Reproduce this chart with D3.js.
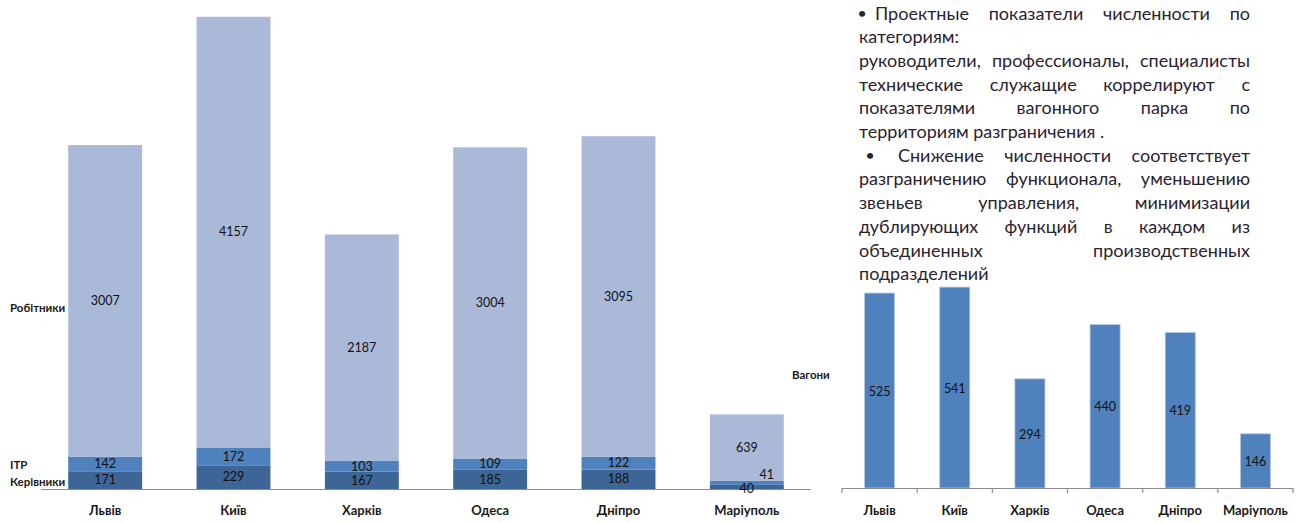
<!DOCTYPE html>
<html><head><meta charset="utf-8">
<script src="https://cdn.jsdelivr.net/npm/d3@7/dist/d3.min.js"></script>
<style>body{margin:0;background:#fff;}svg{display:block;}</style>
</head><body>
<svg id="c" width="1300" height="522"></svg>
<script>
const cities = ["Львів","Київ","Харків","Одеса","Дніпро","Маріуполь"];
const seriesNames = ["Керівники","ІТР","Робітники"];
const managers = [171,229,167,185,188,40];
const itr = [142,172,103,109,122,41];
const workers = [3007,4157,2187,3004,3095,639];
const wagonsName = "Вагони";
const wagons = [525,541,294,440,419,146];
const textLines = [
  {t:"• Проектные показатели численности по", j:true},
  {t:"категориям:", j:false},
  {t:"руководители, профессионалы, специалисты", j:true},
  {t:"технические служащие коррелируют с", j:true},
  {t:"показателями вагонного парка по", j:true},
  {t:"территориям разграничения .", j:false},
  {t:"• Снижение численности соответствует", j:true},
  {t:"разграничению функционала, уменьшению", j:true},
  {t:"звеньев управления, минимизации", j:true},
  {t:"дублирующих функций в каждом из", j:true},
  {t:"объединенных производственных", j:true},
  {t:"подразделений", j:false}
];

const svg = d3.select("#c");
const FONT = "Lato, 'Open Sans', sans-serif";
const colors = ["#3d6696","#4f81bd","#aab9d8"];

// ---------- left stacked chart ----------
const xL = d3.scaleBand().domain(cities).range([41,811]).paddingInner(0.424).paddingOuter(0.212);
const yL = d3.scaleLinear().domain([0,5000]).range([489,-29]);
const rows = cities.map((c,i)=>({city:c, "Керівники":managers[i], "ІТР":itr[i], "Робітники":workers[i]}));
const stack = d3.stack().keys(seriesNames)(rows);

const gLab = svg.append("g").attr("font-family",FONT).attr("font-size",11.5).attr("font-weight","bold").attr("fill","#1a1a1a");
const nameDy = [3,2,8];
stack.forEach((s,k)=>{
  const d=s[0];
  gLab.append("text").attr("x",10).attr("y",(yL(d[0])+yL(d[1]))/2+nameDy[k]).attr("dominant-baseline","middle").text(seriesNames[k]==="ІТР"?"ITP":seriesNames[k]);
});

svg.append("line").attr("x1",41).attr("x2",811).attr("y1",489.5).attr("y2",489.5).attr("stroke","#8c8c8c").attr("stroke-width",1.2);

const gBars = svg.append("g");
stack.forEach((s,k)=>{
  gBars.selectAll(null).data(s).enter().append("rect")
    .attr("x",d=>xL(d.data.city)).attr("width",xL.bandwidth())
    .attr("y",d=>yL(d[1])).attr("height",d=>yL(d[0])-yL(d[1]))
    .attr("fill",colors[k]);
});
const gVals = svg.append("g").attr("font-family",FONT).attr("font-size",12.5).attr("fill","#111").attr("text-anchor","middle");
stack.forEach((s,k)=>{
  s.forEach((d,i)=>{
    let x = xL(d.data.city)+xL.bandwidth()/2, y=(yL(d[0])+yL(d[1]))/2+1;
    const small = (yL(d[0])-yL(d[1]))<8;
    if(small && k===1){ x+=20; y-=8; }
    if(small && k===0){ y+=2; }
    gVals.append("text").attr("x",x).attr("y",y).attr("dominant-baseline","middle").text(d[1]-d[0]);
  });
});
svg.append("g").attr("font-family",FONT).attr("font-size",13).attr("font-weight","bold").attr("fill","#1a1a1a").attr("text-anchor","middle")
  .selectAll("text").data(cities).enter().append("text")
  .attr("x",d=>xL(d)+xL.bandwidth()/2).attr("y",512).attr("dominant-baseline","middle").text(d=>d);

// ---------- right chart ----------
const xR = d3.scaleBand().domain(cities).range([842,1293]).paddingInner(0.6).paddingOuter(0.3);
const yR = d3.scaleLinear().domain([0,600]).range([488,265.2]);
svg.append("g").selectAll("rect").data(wagons).enter().append("rect")
  .attr("x",(d,i)=>xR(cities[i])).attr("width",xR.bandwidth())
  .attr("y",d=>yR(d)).attr("height",d=>yR(0)-yR(d))
  .attr("fill","#4f81bd").attr("stroke","#b8c8e0").attr("stroke-width",0.8);
svg.append("g").attr("font-family",FONT).attr("font-size",12.5).attr("fill","#111").attr("text-anchor","middle")
  .selectAll("text").data(wagons).enter().append("text")
  .attr("x",(d,i)=>xR(cities[i])+xR.bandwidth()/2).attr("y",d=>(yR(0)+yR(d))/2+2)
  .attr("dominant-baseline","middle").text(d=>d);
const axR = svg.append("g").attr("stroke","#8c8c8c").attr("stroke-width",1.2);
axR.append("line").attr("x1",842).attr("x2",1293).attr("y1",488.5).attr("y2",488.5);
const bounds = cities.map(c=>xR(c)-xR.step()*xR.paddingInner()/2).concat([xR.range()[1]]);
bounds[0]=xR.range()[0];
bounds.forEach(b=>axR.append("line").attr("x1",b).attr("x2",b).attr("y1",488).attr("y2",493));
svg.append("g").attr("font-family",FONT).attr("font-size",13).attr("font-weight","bold").attr("fill","#1a1a1a").attr("text-anchor","middle")
  .selectAll("text").data(cities).enter().append("text")
  .attr("x",d=>xR(d)+xR.bandwidth()/2).attr("y",512).attr("dominant-baseline","middle").text(d=>d);
svg.append("text").attr("x",792).attr("y",376).attr("font-family",FONT).attr("font-size",11.5).attr("font-weight","bold").attr("fill","#1a1a1a").attr("dominant-baseline","middle").text(wagonsName);

// ---------- text block ----------
const gT = svg.append("g").attr("font-family",FONT).attr("font-size",18).attr("fill","#2b2330");
const TX0=859, TX1=1250, TY0=15, LH=23.7;
const bulletFmt = [{bx:858, wx:875},{bx:866, wx:898}];
let bi = 0;
textLines.forEach((ln,i)=>{
  const y = TY0+i*LH;
  let words = ln.t.split(/\s+/);
  let x0 = TX0;
  if(words[0]==="•"){
    const f = bulletFmt[bi++];
    gT.append("text").attr("x",f.bx).attr("y",y-1).attr("dominant-baseline","middle").attr("font-weight","bold").attr("font-size",14).text("•");
    words = words.slice(1); x0 = f.wx;
  }
  const nodes = words.map(w=>gT.append("text").attr("y",y).attr("dominant-baseline","middle").text(w));
  const widths = nodes.map(n=>n.node().getComputedTextLength());
  const total = d3.sum(widths);
  let gap = ln.j && words.length>1 ? (TX1-x0-total)/(words.length-1) : 4.5;
  let x = x0;
  nodes.forEach((n,k)=>{ n.attr("x",x); x += widths[k]+gap; });
});
</script>
</body></html>
